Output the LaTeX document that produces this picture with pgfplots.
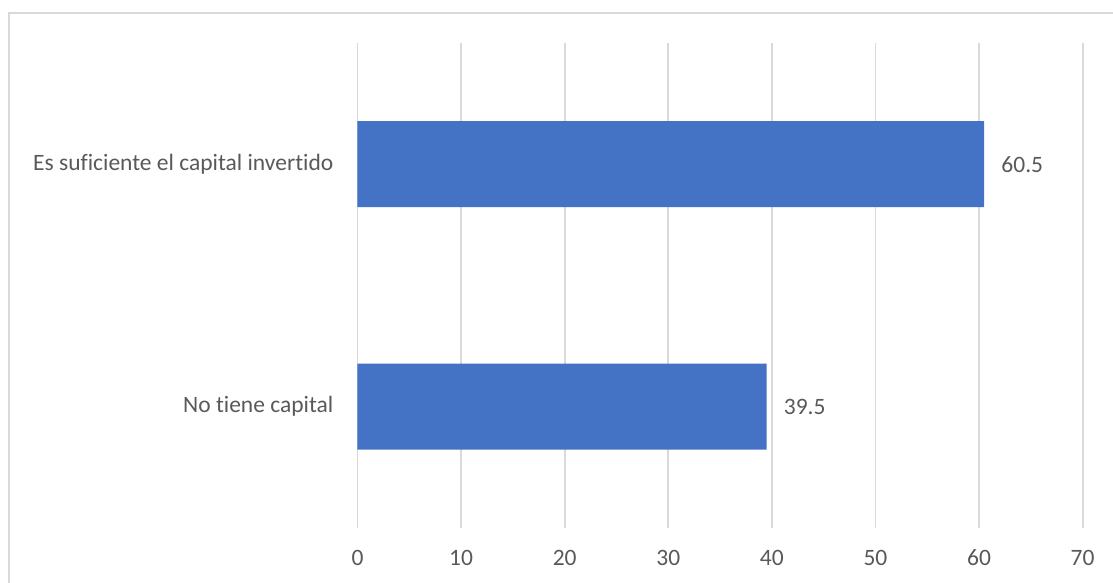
\documentclass[border=0pt]{standalone}
\usepackage{pgfplots}
\pgfplotsset{compat=1.18}
\usepackage{fontspec}
\setmainfont{Carlito}[Ligatures={NoCommon,NoRare,NoContextual}]
\definecolor{barblue}{HTML}{4472C4}
\definecolor{gridgray}{HTML}{D9D9D9}
\definecolor{txtgray}{HTML}{595959}
\begin{document}
\begin{tikzpicture}
\begin{axis}[
  scale only axis,
  width=725.2bp, height=485bp,
  xbar, bar width=86bp,
  xmin=0, xmax=70, ymin=-0.5, ymax=1.5,
  ytick={0,1},
  yticklabels={No tiene capital, Es suficiente el capital invertido},
  xtick={0,10,...,70},
  axis line style={draw=none},
  major tick length=0pt,
  xmajorgrids,
  grid style={gridgray, line width=1.8bp},
  /pgf/number format/assume math mode=true,
  tick label style={font=\fontsize{23.5bp}{28bp}\selectfont, text=txtgray},
  xticklabel style={anchor=center, yshift=-30bp},
  yticklabel style={anchor=east, inner sep=0pt, xshift=-24bp},
  nodes near coords,
  nodes near coords style={font=\fontsize{23.5bp}{28bp}\selectfont, text=txtgray, anchor=west, inner sep=0pt, xshift=17bp, /pgf/number format/.cd, fixed, precision=1},
  clip=false,
]
\addplot[fill=barblue, draw=none] coordinates {(39.5,0) (60.5,1)};
\draw[gridgray, line width=1.8bp] (axis cs:-33.64,1.624) rectangle (axis cs:80,-1.2);
\coordinate (bl) at (axis cs:-34.51,-0.727);
\coordinate (tr) at (axis cs:72.93,1.677);
\end{axis}
\pgfresetboundingbox
\useasboundingbox (bl) rectangle (tr);
\end{tikzpicture}
\end{document}
